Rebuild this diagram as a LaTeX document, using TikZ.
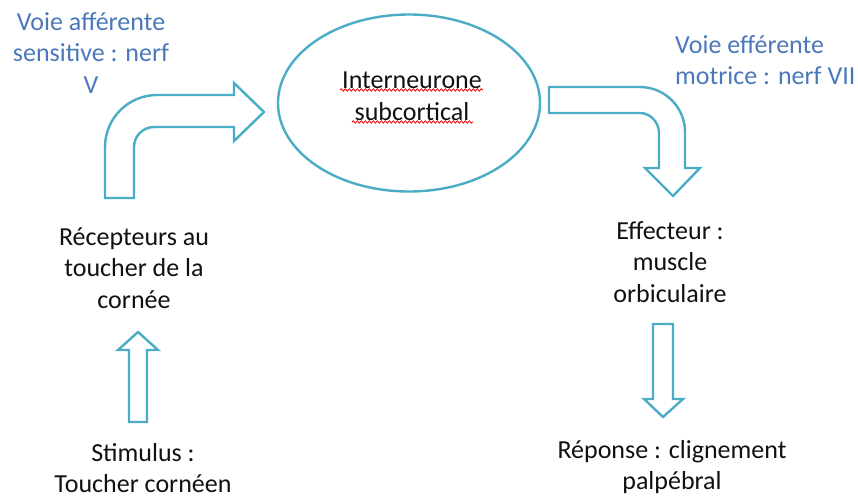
\documentclass[tikz,border=0pt]{standalone}
\usepackage{fontspec}
\setmainfont{Carlito}
\usetikzlibrary{shapes.geometric,decorations.pathmorphing}
\definecolor{aqua}{HTML}{4BACC6}
\definecolor{lblblue}{HTML}{4A78B8}
\definecolor{txtblack}{HTML}{111111}
\tikzset{
  blockarrow/.style={draw=aqua, line width=2.4pt, line join=miter, fill=white},
  lbl/.style={align=center, inner sep=0pt, text=txtblack, font=\fontsize{26}{31.5}\selectfont},
  bluelbl/.style={lbl, text=lblblue},
  squiggle/.style={draw=red, line width=0.8pt, decorate, decoration={snake, amplitude=1.2pt, segment length=4pt}}
}
\begin{document}
\begin{tikzpicture}[x=1pt,y=-1pt]
\useasboundingbox (0,0) rectangle (858,499);
% ellipse
\node[draw=aqua, line width=2.4pt, ellipse, minimum width=262pt, minimum height=177pt, inner sep=0pt] (inter) at (409,103) {};
\node[lbl] (intertxt) at (412,96) {Interneurone\\subcortical};
\path[squiggle] (340,90) -- (483,90);
\path[squiggle] (352,122) -- (473,122);
% bent arrow 1 (afferent)
\path[blockarrow] (105,198) -- (105,147) .. controls (105,118.3) and (128.3,95) .. (157,95)
  -- (234,95) -- (234,83) -- (264,112) -- (234,141) -- (234,127) -- (154,127)
  .. controls (143,127) and (134,136) .. (134,147) -- (134,198) -- cycle;
% bent arrow 2 (efferent)
\path[blockarrow] (549,87) -- (640,87) .. controls (664.8,87) and (685,107.2) .. (685,132)
  -- (685,168) -- (700,168) -- (673,196) -- (645,168) -- (659,168) -- (659,133)
  .. controls (659,122.5) and (650.5,113) .. (640,113) -- (549,113) -- cycle;
% up arrow
\path[blockarrow] (129,422) -- (129,350) -- (118,350) -- (138,332) -- (158,350) -- (147,350) -- (147,422) -- cycle;
% down arrow
\path[blockarrow] (653,324) -- (673,324) -- (673,399) -- (683,399) -- (663,417) -- (644,399) -- (653,399) -- cycle;
% labels
\node[bluelbl] (aff) at (91,53) {Voie afférente\\sensitive : nerf\\V};
\node[bluelbl, align=left, anchor=west] (eff) at (675,60) {Voie efférente\\motrice : nerf VII};
\node[lbl] (recep) at (134,268) {Récepteurs au\\toucher de la\\cornée};
\node[lbl] (effect) at (670,262) {Effecteur :\\muscle\\orbiculaire};
\node[lbl] (stim) at (143,468) {Stimulus :\\Toucher cornéen};
\node[lbl] (rep) at (672,467) {Réponse : clignement\\palpébral};
\end{tikzpicture}
\end{document}
